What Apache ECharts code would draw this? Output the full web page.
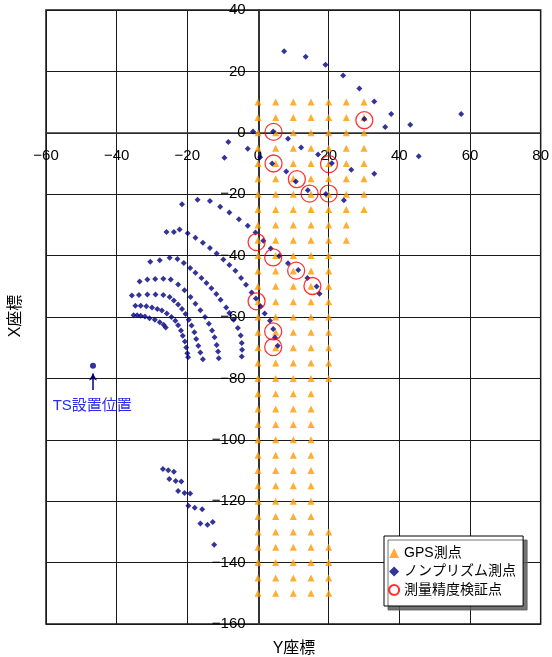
<!DOCTYPE html>
<html>
<head>
<meta charset="utf-8">
<script src="https://cdn.jsdelivr.net/npm/echarts@6/dist/echarts.min.js"></script>
<style>
  html, body { margin: 0; padding: 0; background: #fff; }
  #chart { width: 552px; height: 657px; }
</style>
</head>
<body>
<div id="chart"></div>
<script>
// GPS測点: 各列(Y座標)ごとの X座標
const gpsRowsFull = [10, 5, 0, -5, -10, -15, -20, -25, -30, -35, -40, -45, -50, -55, -60, -65, -70, -75, -80,
  -85, -90, -95, -100, -105, -110, -115, -120, -125, -130, -135, -140, -145, -150]
const gpsRows20 = [10, 5, 0, -5, -10, -15, -20, -25, -30, -35, -40, -45, -50, -55, -60, -65, -70, -75, -80,
  -130, -135, -140, -145, -150]
const gpsRows25 = [10, 5, 0, -5, -10, -15, -20, -25, -30, -35]
const gpsRows30 = [10, 5, 0, -5, -10, -15, -20, -25]
const gpsColumns = [
  { y: 0, rows: gpsRowsFull },
  { y: 5, rows: gpsRowsFull },
  { y: 10, rows: gpsRowsFull },
  { y: 15, rows: gpsRowsFull },
  { y: 20, rows: gpsRows20 },
  { y: 25, rows: gpsRows25 },
  { y: 30, rows: gpsRows30 }
]

// ノンプリズム測点 [Y座標, X座標]
const ridgeNorth = [[7.4, 26.6], [13.5, 24.8], [19.1, 22.2], [24.1, 18.7], [28.7, 14.4], [32.9, 10.2], [37.7, 6.1],
  [30.1, 4.5], [36.0, 1.9], [43.1, 2.6], [57.5, 6.1], [45.5, -7.6], [32.9, -13.3]]
const nearOrigin = [[-1.4, 0.4], [4.3, 0.4], [8.5, -1.9], [12.2, -4.8], [17.0, -7.1], [20.9, -9.9], [26.4, -12.0],
  [-8.4, -3.0], [-2.9, -5.2], [-9.5, -8.1], [0.6, -8.0], [4.0, -10.0], [8.0, -12.6], [10.7, -15.9], [14.1, -18.7],
  [19.2, -19.9], [24.3, -22.0]]
const arc1 = [[-21.5, -23.3], [-17.1, -21.8], [-13.6, -22.2], [-10.7, -24.1], [-8.1, -26.0], [-5.4, -28.2],
  [-2.9, -30.3], [-0.7, -32.5], [1.5, -35.2], [3.6, -37.7], [6.0, -40.1], [8.5, -42.5], [11.4, -44.7],
  [14.0, -47.3], [16.6, -50.1], [17.4, -52.4]]
const arc2 = [[-25.9, -32.3], [-23.8, -32.3], [-22.2, -31.5], [-19.9, -32.7], [-17.7, -34.2], [-15.6, -35.8],
  [-13.6, -37.5], [-11.7, -39.3], [-9.8, -41.3], [-8.1, -43.1], [-6.4, -44.9], [-4.8, -47.3], [-3.4, -49.5],
  [-1.8, -52.0], [-0.6, -54.0], [0.7, -56.5], [1.9, -58.9], [3.4, -61.2], [4.3, -63.9], [4.8, -66.7], [5.6, -69.4]]
const arc3 = [[-30.5, -42.0], [-27.8, -41.5], [-25.0, -40.7], [-22.8, -41.1], [-21.0, -42.4], [-19.2, -44.0],
  [-17.7, -45.6], [-16.0, -47.3], [-14.6, -48.9], [-13.2, -50.6], [-11.8, -52.5], [-10.6, -54.4], [-9.0, -56.9],
  [-8.1, -58.7], [-6.9, -60.9], [-5.7, -63.6], [-4.9, -66.0], [-4.6, -68.5], [-4.5, -70.7], [-4.6, -72.9]]
const arc4 = [[-33.5, -48.4], [-31.3, -47.8], [-29.1, -47.6], [-26.8, -47.5], [-24.7, -47.8], [-22.6, -49.4],
  [-20.8, -51.3], [-19.1, -53.5], [-17.7, -55.7], [-16.3, -57.8], [-15.0, -60.0], [-13.9, -62.2], [-13.0, -64.4],
  [-12.3, -66.6], [-11.7, -69.1], [-11.3, -71.2], [-11.1, -73.4]]
const arc5 = [[-35.7, -53.0], [-33.7, -52.8], [-31.3, -52.7], [-29.0, -52.7], [-26.8, -52.8], [-25.0, -53.5],
  [-23.8, -54.6], [-22.6, -55.9], [-21.5, -57.4], [-20.5, -59.0], [-19.6, -60.9], [-18.8, -62.8], [-18.0, -65.0],
  [-17.5, -67.2], [-16.9, -69.4], [-16.3, -71.6], [-15.6, -73.8]]
const arc6 = [[-34.7, -56.3], [-33.2, -56.3], [-31.6, -56.5], [-30.0, -56.9], [-28.5, -57.4], [-27.2, -57.9],
  [-25.8, -58.9], [-24.5, -60.0], [-23.4, -61.2], [-22.6, -62.7], [-21.8, -64.4], [-21.3, -66.1], [-20.7, -68.0],
  [-20.3, -69.9], [-20.0, -71.8], [-19.8, -73.1]]
const arc7 = [[-35.2, -59.4], [-34.2, -59.4], [-33.2, -59.6], [-32.0, -59.8], [-30.7, -60.4], [-29.2, -60.9],
  [-27.8, -61.7], [-26.7, -62.5], [-26.1, -63.4]]
const southCluster = [[-26.9, -109.5], [-25.4, -109.9], [-23.8, -110.4], [-25.1, -112.8], [-23.3, -113.4],
  [-21.7, -113.6], [-22.6, -116.7], [-20.8, -117.3], [-19.2, -117.5], [-19.7, -121.5], [-17.9, -122.1],
  [-15.8, -122.6], [-16.3, -127.3], [-14.3, -127.7], [-12.8, -126.8], [-12.4, -134.2]]

// 測量精度検証点
const checkPoints = [[4.4, 0.3], [4.4, -10.0], [11.0, -15.1], [14.6, -19.8], [20.1, -10.2], [20.0, -19.8],
  [30.1, 4.1], [-0.4, -35.6], [4.3, -40.6], [10.8, -44.9], [15.4, -49.9], [-0.4, -54.9], [4.3, -64.7], [4.3, -69.8]]

// TS設置位置
const tsPoint = [-46.7, -75.9]
const tsArrow = [[-46.7, -83.8], [-46.7, -78.4]]
const tsLabelPos = [-46.9, -88.9]

const xTicks = { min: -60, max: 80, step: 20 }
const yTicks = { min: -160, max: 40, step: 20 }

const gpsData = []
gpsColumns.forEach((c) => {
  c.rows.forEach((r) => {
    gpsData.push([c.y, r])
  })
})
const prismData = [].concat(ridgeNorth, nearOrigin, arc1, arc2, arc3, arc4, arc5, arc6, arc7, southCluster)

// grid (px)
const G = { left: 46, right: 10, top: 10, bottom: 33, w: 552, h: 657 }
const plotW = G.w - G.left - G.right
const plotH = G.h - G.top - G.bottom
// 軸を原点に移す（ラベルも一緒に）
const xAxisOffset = -(plotH * (0 - yTicks.min) / (yTicks.max - yTicks.min))
const yAxisOffset = -(plotW * (0 - xTicks.min) / (xTicks.max - xTicks.min))

const FONT = '"Liberation Sans", "Noto Sans CJK JP", sans-serif'
const minus = (v) => String(v).replace('-', '\u2212')
const chart = echarts.init(document.getElementById('chart'))
chart.setOption({
  animation: false,
  grid: {
    left: G.left, right: G.right, top: G.top, bottom: G.bottom,
    show: true, borderColor: '#1a1a1a', borderWidth: 1.5, backgroundColor: '#fff'
  },
  legend: {
    orient: 'vertical',
    left: 384, top: 536,
    itemWidth: 10, itemHeight: 10, itemGap: 4.5,
    padding: [10, 7, 9, 4],
    backgroundColor: '#fff',
    borderColor: '#000', borderWidth: 1,
    shadowColor: 'rgba(90,90,90,0.85)', shadowBlur: 0, shadowOffsetX: 4, shadowOffsetY: 4,
    textStyle: { fontSize: 14, color: '#000', fontFamily: FONT },
    data: [
      { name: 'GPS測点', icon: 'triangle' },
      { name: 'ノンプリズム測点', icon: 'diamond' },
      { name: '測量精度検証点', icon: 'circle', itemStyle: { borderWidth: 2.2 } }
    ]
  },
  xAxis: {
    type: 'value',
    position: 'bottom',
    offset: xAxisOffset,
    min: xTicks.min, max: xTicks.max, interval: xTicks.step,
    axisLine: { onZero: false, lineStyle: { color: '#333', width: 1.5 } },
    axisTick: { show: false },
    axisLabel: { fontSize: 15, color: '#000', margin: 16, fontFamily: FONT, formatter: minus },
    splitLine: { show: true, lineStyle: { color: '#1a1a1a', width: 1 } }
  },
  yAxis: {
    type: 'value',
    position: 'left',
    offset: yAxisOffset,
    min: yTicks.min, max: yTicks.max, interval: yTicks.step,
    axisLine: { show: true, onZero: false, lineStyle: { color: '#333', width: 2 } },
    axisTick: { show: false },
    axisLabel: { fontSize: 15, color: '#000', margin: 13, fontFamily: FONT, formatter: minus },
    splitLine: { show: true, lineStyle: { color: '#1a1a1a', width: 1 } }
  },
  graphic: [
    { type: 'text', x: 294, y: 649,
      style: { text: 'Y座標', fill: '#000', font: '16px ' + FONT, align: 'center', verticalAlign: 'middle' } },
    { type: 'text', x: 16, y: 316, rotation: Math.PI / 2,
      style: { text: 'X座標', fill: '#000', font: '16px ' + FONT, align: 'center', verticalAlign: 'middle' } }
  ],
  series: [
    {
      name: 'GPS測点',
      type: 'scatter',
      symbol: 'triangle',
      symbolSize: 7,
      itemStyle: { color: '#ff9900' },
      data: gpsData,
      z: 2
    },
    {
      name: 'ノンプリズム測点',
      type: 'scatter',
      symbol: 'diamond',
      symbolSize: [6, 6],
      itemStyle: { color: '#000080' },
      data: prismData,
      z: 3
    },
    {
      name: '測量精度検証点',
      type: 'scatter',
      symbol: 'circle',
      symbolSize: 17,
      itemStyle: { color: 'rgba(0,0,0,0)', borderColor: '#ff0000', borderWidth: 1.3 },
      data: checkPoints,
      z: 4
    },
    {
      name: 'TS',
      type: 'scatter',
      symbol: 'circle',
      symbolSize: 6,
      itemStyle: { color: '#000080' },
      data: [tsPoint],
      z: 4,
      markLine: {
        silent: true,
        symbol: ['none', 'arrow'],
        symbolSize: [6, 7],
        label: { show: false },
        lineStyle: { color: '#000080', width: 1.5, type: 'solid' },
        data: [[{ coord: tsArrow[0] }, { coord: tsArrow[1] }]]
      },
      markPoint: {
        silent: true,
        symbol: 'circle',
        symbolSize: 1,
        itemStyle: { color: 'rgba(0,0,0,0)' },
        label: { show: true, position: 'inside', formatter: 'TS設置位置', fontSize: 15, color: '#2b2bf0', fontFamily: FONT },
        data: [{ coord: tsLabelPos }]
      }
    }
  ]
})
</script>
</body>
</html>
